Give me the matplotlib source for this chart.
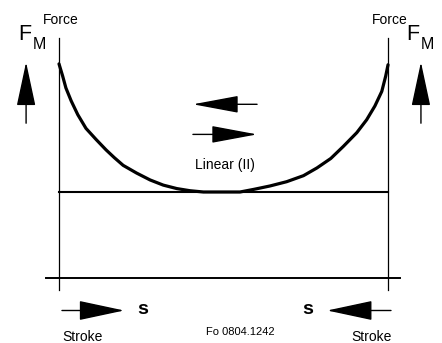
import matplotlib
matplotlib.use("Agg")
import matplotlib.pyplot as plt
import numpy as np

plt.rcParams['font.family'] = ['Liberation Sans', 'DejaVu Sans']

# force curve: stroke in % of travel, force relative to the linear level
stroke = [0, 1.1, 2.1, 3.7, 5.7, 8.2, 11.3, 14.3, 16.8, 19.5, 23.6, 27.7, 31.7, 35.8,
          39.8, 43.9, 47.4, 52.0, 55.0, 59.1, 64.1, 69.2, 74.3, 78.4, 82.6, 86.4,
          90.5, 93.5, 96.0, 98.1, 99.3, 100]
force = [2.49, 2.35, 2.21, 2.06, 1.90, 1.74, 1.61, 1.49, 1.40, 1.31, 1.22, 1.14, 1.08, 1.04,
         1.015, 1.00, 1.00, 1.00, 1.00, 1.03, 1.07, 1.12, 1.19, 1.28, 1.39, 1.53,
         1.69, 1.84, 2.00, 2.17, 2.35, 2.48]
linear_level = 1.0
stroke_range = [0, 100]

fig = plt.figure(figsize=(4.42, 3.43), dpi=100)
ax = fig.add_axes([0, 0, 1, 1])
ax.set_xlim(-17.93, 116.4)
ax.set_ylim(-0.756, 3.233)
ax.axis('off')

# frame: two force axes and the stroke axis
for s0 in stroke_range:
    ax.plot([s0, s0], [-0.14, 2.79], color='black', lw=0.9)
ax.plot([-3.9, 103.6], [0, 0], color='black', lw=1.4)
ax.plot(stroke_range, [linear_level, linear_level], color='black', lw=1.5)

# the force curve
ax.plot(stroke, force, color='black', lw=2.3, solid_capstyle='round', solid_joinstyle='round')

def arrow(tail, tip, hl=28, hw=6):
    ax.annotate('', xy=tip, xytext=tail,
                arrowprops=dict(arrowstyle=f'-|>,head_length={hl},head_width={hw}',
                                mutation_scale=1, shrinkA=0, shrinkB=0,
                                color='black', lw=1.0))

# force arrows at both sides
arrow((-10.0, 1.80), (-10.0, 2.51), hl=28, hw=6)
arrow((110.0, 1.80), (110.0, 2.51), hl=28, hw=6)
# direction arrows in the middle
arrow((60.2, 2.02), (40.7, 2.02), hl=29, hw=5.4)
arrow((40.7, 1.67), (60.2, 1.67), hl=29, hw=5.4)
# stroke arrows
arrow((0.9, -0.378), (19.8, -0.378), hl=29, hw=6.2)
arrow((100.9, -0.378), (81.5, -0.378), hl=29, hw=6.2)

ax.text(0.6, 3.0, 'Force', fontsize=10, ha='center', va='center')
ax.text(100.6, 3.0, 'Force', fontsize=10, ha='center', va='center')

ax.text(-10.3, 2.83, 'F', fontsize=15.5, ha='center', va='center')
ax.text(-5.9, 2.71, 'M', fontsize=11.5, ha='center', va='center')
ax.text(107.6, 2.83, 'F', fontsize=15.5, ha='center', va='center')
ax.text(112.1, 2.71, 'M', fontsize=11.5, ha='center', va='center')

ax.text(50.5, 1.31, 'Linear (II)', fontsize=10, ha='center', va='center')

ax.text(25.5, -0.37, 's', fontsize=14, fontweight='bold', ha='center', va='center')
ax.text(75.7, -0.37, 's', fontsize=14, fontweight='bold', ha='center', va='center')

ax.text(7.0, -0.69, 'Stroke', fontsize=10, ha='center', va='center')
ax.text(95.1, -0.69, 'Stroke', fontsize=10, ha='center', va='center')
ax.text(55.2, -0.624, 'Fo 0804.1242', fontsize=8, ha='center', va='center')

fig.savefig('out.png', dpi=100, facecolor='white')
